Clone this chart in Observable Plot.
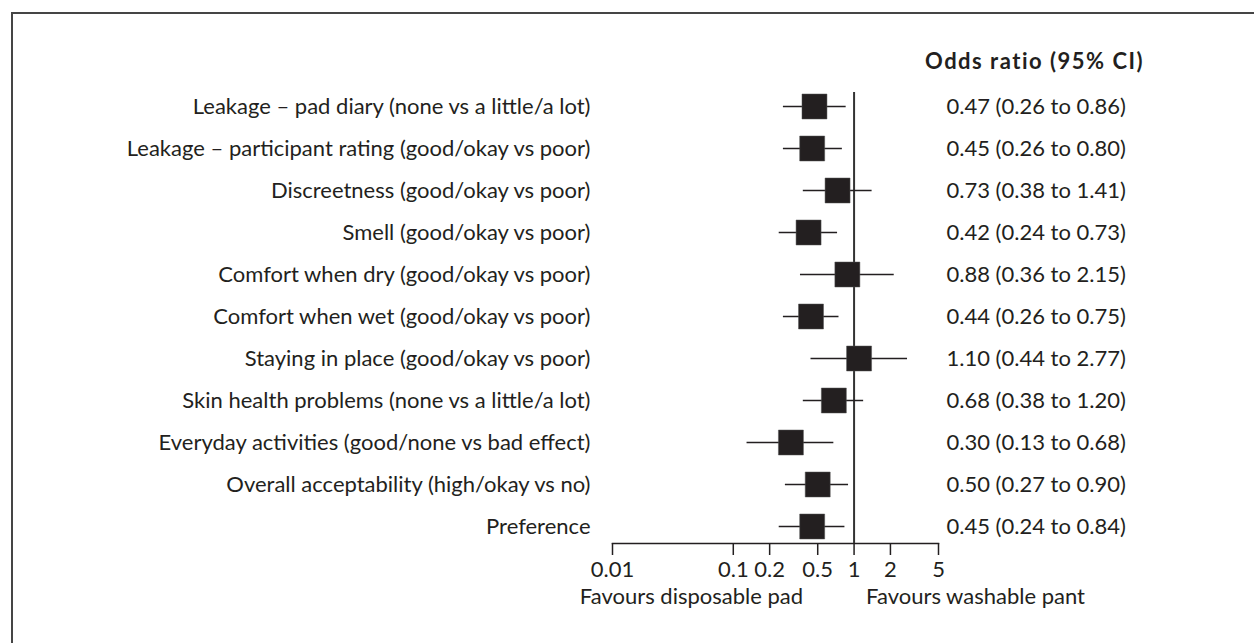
<!DOCTYPE html>
<html>
<head>
<meta charset="utf-8">
<script src="https://cdn.jsdelivr.net/npm/d3@7"></script>
<script src="https://cdn.jsdelivr.net/npm/@observablehq/plot@0.6"></script>
<style>
  html, body { margin: 0; padding: 0; background: #fff; }
  #wrap { position: relative; width: 1254px; height: 643px; overflow: hidden; }
  #border { position: absolute; left: 11px; top: 12px; right: 0; bottom: 0;
            border-top: 2px solid #454545; border-left: 2px solid #454545; }
  #chart { position: absolute; left: 0; top: 0; }
</style>
</head>
<body>
<div id="wrap"><div id="border"></div><div id="chart"></div></div>
<script>
const labels = [
  "Leakage – pad diary (none vs a little/a lot)",
  "Leakage – participant rating (good/okay vs poor)",
  "Discreetness (good/okay vs poor)",
  "Smell (good/okay vs poor)",
  "Comfort when dry (good/okay vs poor)",
  "Comfort when wet (good/okay vs poor)",
  "Staying in place (good/okay vs poor)",
  "Skin health problems (none vs a little/a lot)",
  "Everyday activities (good/none vs bad effect)",
  "Overall acceptability (high/okay vs no)",
  "Preference"
];
const oddsRatio = [0.47, 0.45, 0.73, 0.42, 0.88, 0.44, 1.10, 0.68, 0.30, 0.50, 0.45];
const ciLow     = [0.26, 0.26, 0.38, 0.24, 0.36, 0.26, 0.44, 0.38, 0.13, 0.27, 0.24];
const ciHigh    = [0.86, 0.80, 1.41, 0.73, 2.15, 0.75, 2.77, 1.20, 0.68, 0.90, 0.84];
const xTicks = [0.01, 0.1, 0.2, 0.5, 1, 2, 5];
const xTickLabels = ["0.01", "0.1", "0.2", "0.5", "1", "2", "5"];
const columnHeader = "Odds ratio (95% CI)";
const leftNote = "Favours disposable pad";
const rightNote = "Favours washable pant";

const fmt = d3.format(".2f");
const rows = labels.map((label, i) => ({
  label, or: oddsRatio[i], lo: ciLow[i], hi: ciHigh[i],
  text: `${fmt(oddsRatio[i])} (${fmt(ciLow[i])} to ${fmt(ciHigh[i])})`
}));
const tickRows = xTicks.map((v, i) => ({ v, t: xTickLabels[i] }));

const ink = "#231f20";
const fs = 22;
const chart = Plot.plot({
  width: 1254,
  height: 643,
  marginLeft: 612,
  marginRight: 316,
  marginTop: 92,
  marginBottom: 100,
  insetTop: 14,
  insetBottom: 17,
  style: { fontFamily: "Lato, 'Open Sans', sans-serif", fontSize: fs + "px", color: ink, background: "transparent", overflow: "visible" },
  x: { type: "log", domain: [0.01, 5] },
  y: { type: "point", domain: labels, padding: 0 },
  marks: [
    Plot.axisY({ tickSize: 0, tickPadding: 22, label: null, fontSize: fs, fill: ink }),
    Plot.frame({ anchor: "bottom", stroke: ink, strokeWidth: 1.5 }),
    Plot.axisX({ ticks: xTicks, tickFormat: () => "", tickSize: 12, label: null, stroke: ink, strokeWidth: 1.5 }),
    Plot.text(tickRows, { x: "v", text: "t", frameAnchor: "bottom", dy: 26, lineAnchor: "middle", fontSize: fs, fill: ink }),
    Plot.ruleX([1], { stroke: "#333", strokeWidth: 2 }),
    Plot.ruleY(rows, { y: "label", x1: "lo", x2: "hi", stroke: ink, strokeWidth: 1.4 }),
    Plot.dot(rows, { x: "or", y: "label", symbol: "square", r: 14.1, fill: ink, stroke: "#555", strokeWidth: 0.5 }),
    Plot.text(rows, { y: "label", text: "text", frameAnchor: "right", dx: 8, textAnchor: "start", fontSize: fs, fill: ink }),
    Plot.text([columnHeader], { text: d => d, frameAnchor: "top-right", dx: 96, dy: -31, textAnchor: "middle", lineAnchor: "middle", fontWeight: "bold", fontSize: fs, fill: ink }),
    Plot.text([leftNote], { x: [1], text: d => d, frameAnchor: "bottom", dx: -51, dy: 53, textAnchor: "end", lineAnchor: "middle", fontSize: fs, fill: ink }),
    Plot.text([rightNote], { x: [1], text: d => d, frameAnchor: "bottom", dx: 12, dy: 53, textAnchor: "start", lineAnchor: "middle", fontSize: fs, fill: ink })
  ]
});
d3.select(chart).selectAll("text")
  .filter(function () { return this.textContent === columnHeader; })
  .style("letter-spacing", "1.5px");
document.getElementById("chart").appendChild(chart);
</script>
</body>
</html>
